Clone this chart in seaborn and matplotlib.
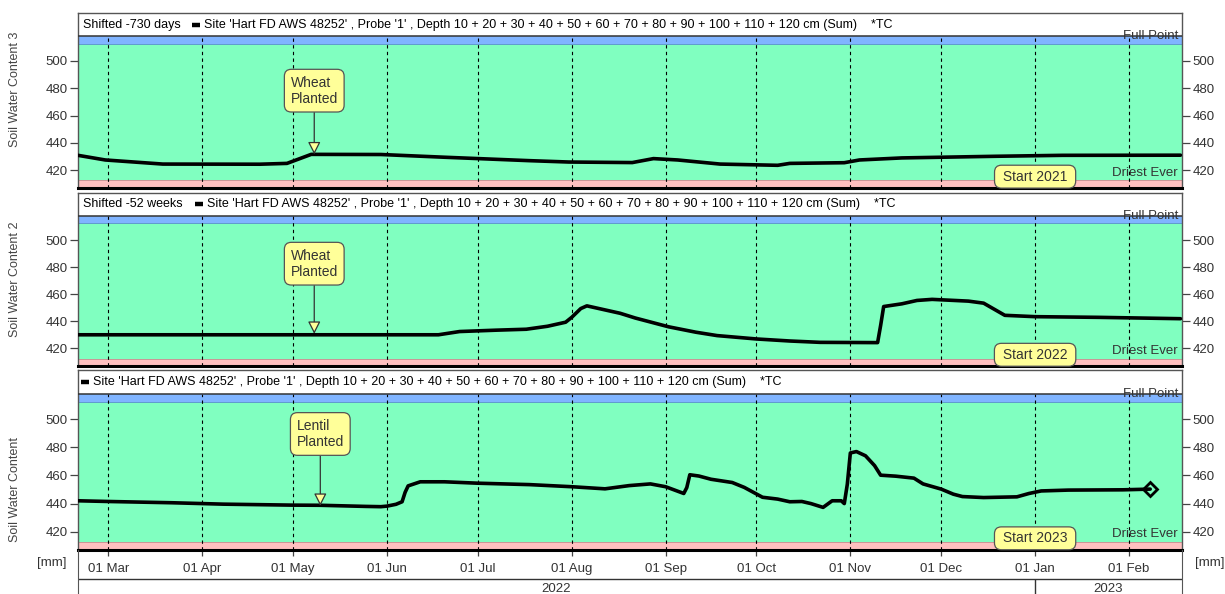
import matplotlib
matplotlib.use("Agg")
import matplotlib.dates as mdates
import matplotlib.pyplot as plt
import pandas as pd
import seaborn as sns

# ---- data ------------------------------------------------------------------
P1_DATES = ["2022-02-19", "2022-02-28", "2022-03-19", "2022-04-20", "2022-04-29",
            "2022-05-07", "2022-05-30", "2022-06-20", "2022-07-18", "2022-07-31",
            "2022-08-21", "2022-08-28", "2022-09-05", "2022-09-19", "2022-10-08",
            "2022-10-12", "2022-10-30", "2022-11-04", "2022-11-18", "2022-12-19",
            "2023-01-10", "2023-02-18"]
P1_VALUES = [430.9, 427.5, 424.5, 424.4, 425.0, 431.6, 431.5, 429.5, 427.0, 426.0,
             425.6, 428.5, 427.5, 424.5, 423.6, 425.0, 425.5, 427.5, 429.0, 430.2,
             430.9, 431.0]

P2_DATES = ["2022-02-19", "2022-06-18", "2022-06-25", "2022-07-07", "2022-07-17",
            "2022-07-24", "2022-07-30", "2022-08-01", "2022-08-04", "2022-08-06",
            "2022-08-10", "2022-08-17", "2022-08-22", "2022-09-02", "2022-09-11",
            "2022-09-18", "2022-10-01", "2022-10-12", "2022-10-22", "2022-11-10",
            "2022-11-11", "2022-11-12", "2022-11-18", "2022-11-23", "2022-11-28",
            "2022-12-10", "2022-12-15", "2022-12-22", "2023-01-01", "2023-01-22",
            "2023-02-18"]
P2_VALUES = [430.1, 430.1, 432.5, 433.5, 434.2, 436.4, 439.4, 443.0, 449.5, 451.5,
             449.5, 446.0, 442.5, 436.0, 432.0, 429.5, 427.0, 425.5, 424.5, 424.3,
             437.0, 451.0, 453.0, 455.5, 456.3, 455.0, 453.5, 444.5, 443.5, 443.0,
             442.0]

P3_DATES = ["2022-02-19", "2022-03-01", "2022-03-22", "2022-04-08", "2022-05-01",
            "2022-05-10", "2022-05-25", "2022-05-30", "2022-06-01", "2022-06-04",
            "2022-06-06", "2022-06-07", "2022-06-08", "2022-06-12", "2022-06-20",
            "2022-07-01", "2022-07-18", "2022-08-01", "2022-08-12", "2022-08-20",
            "2022-08-27", "2022-09-01", "2022-09-07", "2022-09-08", "2022-09-09",
            "2022-09-12", "2022-09-16", "2022-09-23", "2022-09-27", "2022-10-03",
            "2022-10-08", "2022-10-12", "2022-10-16", "2022-10-19", "2022-10-23",
            "2022-10-26", "2022-10-29", "2022-10-30", "2022-10-31", "2022-11-01",
            "2022-11-03", "2022-11-06", "2022-11-09", "2022-11-11", "2022-11-16",
            "2022-11-22", "2022-11-25", "2022-12-01", "2022-12-05", "2022-12-08",
            "2022-12-15", "2022-12-26", "2022-12-30", "2023-01-03", "2023-01-12",
            "2023-01-30", "2023-02-08"]
P3_VALUES = [442.0, 441.5, 440.6, 439.6, 438.9, 438.8, 438.0, 437.8, 438.2, 439.5,
             441.3, 448.0, 452.6, 455.5, 455.5, 454.5, 453.5, 452.0, 450.5, 452.8,
             454.0, 452.0, 447.2, 451.4, 460.5, 459.6, 457.3, 455.0, 451.5, 444.5,
             443.2, 441.3, 441.5, 440.0, 437.3, 442.0, 442.0, 440.0, 453.8, 476.0,
             477.0, 474.0, 467.0, 460.2, 459.5, 458.1, 454.0, 450.3, 446.7, 445.0,
             444.3, 444.8, 447.2, 449.0, 449.6, 449.8, 450.3]

SERIES_DATES = [P1_DATES, P2_DATES, P3_DATES]
SERIES_VALUES = [P1_VALUES, P2_VALUES, P3_VALUES]

SHIFT_LABELS = ["Shifted -730 days", "Shifted -52 weeks", ""]
Y_LABELS = ["Soil Water Content 3", "Soil Water Content 2", "Soil Water Content"]
PLANT_LABELS = ["Wheat\nPlanted", "Wheat\nPlanted", "Lentil\nPlanted"]
PLANT_DATES = ["2022-05-08", "2022-05-08", "2022-05-10"]
PLANT_TIPS = [431.6, 430.8, 438.4]
PLANT_BOX_Y = [478.2, 482.7, 489.5]
START_LABELS = ["Start 2021", "Start 2022", "Start 2023"]
START_DATE = "2023-01-01"
SITE_TEXT = ("Site 'Hart FD AWS 48252' , Probe '1' , Depth 10 + 20 + 30 + 40 + 50 + 60 + "
             "70 + 80 + 90 + 100 + 110 + 120 cm (Sum)    *TC")

Y_TICKS = [420, 440, 460, 480, 500]
FULL_POINT = 518.0
REFILL_TOP = 512.5
DRIEST_EVER = 412.5
Y_MIN, Y_MAX = 407.0, 535.0
X_MIN, X_MAX = pd.Timestamp("2022-02-19"), pd.Timestamp("2023-02-18 12:00")

GREEN = "#80ffc0"
BLUE = "#80b4ff"
PINK = "#ffc0c0"
YELLOW = "#ffff99"
TEXT = "#333333"

# ---- layout (pixels of the 1225x594 canvas) --------------------------------
W, H = 1225, 594
BOX_LEFT, BOX_RIGHT = 78, 1182
PANELS_PX = [(13, 188), (193, 366), (370, 550)]
YLABEL_CENTERS = [89, 279, 489]
DASH_PX = [(192, 200, 204), (195, 203, 207), (81, 89, 93)]

sns.set_style("white")
plt.rcParams["font.family"] = ["Liberation Sans", "DejaVu Sans"]
plt.rcParams["font.size"] = 9

fig = plt.figure(figsize=(W / 100, H / 100), dpi=100)


def px_axes(top, bottom):
    return fig.add_axes([BOX_LEFT / W, 1 - bottom / H,
                         (BOX_RIGHT - BOX_LEFT) / W, (bottom - top) / H])


def xfrac(px):
    return (px - BOX_LEFT) / (BOX_RIGHT - BOX_LEFT)


months = pd.date_range("2022-03-01", "2023-02-01", freq="MS")
axes = []
for i, (top, bottom) in enumerate(PANELS_PX):
    ax = px_axes(top, bottom)
    axes.append(ax)
    ax.set_xlim(X_MIN, X_MAX)
    ax.set_ylim(Y_MIN, Y_MAX)
    ax.set_facecolor("white")

    ax.axhspan(DRIEST_EVER, REFILL_TOP, color=GREEN, lw=0, zorder=0)
    ax.axhspan(REFILL_TOP, FULL_POINT, color=BLUE, lw=0, zorder=0)
    ax.axhspan(Y_MIN, DRIEST_EVER, color=PINK, lw=0, zorder=0)
    ax.axhline(FULL_POINT, color="#333333", lw=1.1, zorder=3)
    ax.axhline(REFILL_TOP, color="#5a8ad0", lw=0.6, zorder=1)
    ax.axhline(DRIEST_EVER, color="#c09090", lw=0.6, zorder=1)
    ax.vlines(months, Y_MIN, FULL_POINT, colors="black", linestyles=(0, (3, 3)),
              lw=0.8, zorder=2)

    ax.text(xfrac(1178), FULL_POINT, "Full Point", transform=ax.get_yaxis_transform(),
            ha="right", va="center", color=TEXT, fontsize=9.5, zorder=1.5)
    ax.text(xfrac(1178), 418.3, "Driest Ever", transform=ax.get_yaxis_transform(),
            ha="right", va="center", color=TEXT, fontsize=9.5, zorder=1.5)

    sns.lineplot(x=pd.to_datetime(SERIES_DATES[i]), y=SERIES_VALUES[i], ax=ax,
                 color="black", lw=2.6, zorder=4)

    # header strip
    head_y = (FULL_POINT + Y_MAX) / 2
    if SHIFT_LABELS[i]:
        ax.text(xfrac(83), head_y, SHIFT_LABELS[i], transform=ax.get_yaxis_transform(),
                ha="left", va="center", color="black", fontsize=9)
    d0, d1, tx = DASH_PX[i]
    ax.plot([xfrac(d0), xfrac(d1)], [head_y, head_y], transform=ax.get_yaxis_transform(),
            color="black", lw=3.2, solid_capstyle="butt")
    ax.text(xfrac(tx), head_y, SITE_TEXT, transform=ax.get_yaxis_transform(),
            ha="left", va="center", color="black", fontsize=9)

    ax.annotate(PLANT_LABELS[i], xy=(pd.Timestamp(PLANT_DATES[i]), PLANT_TIPS[i]),
                xytext=(pd.Timestamp(PLANT_DATES[i]), PLANT_BOX_Y[i]),
                ha="center", va="center", multialignment="left", fontsize=10,
                color=TEXT, zorder=6,
                bbox=dict(boxstyle="round,pad=0.45,rounding_size=0.5", fc=YELLOW,
                          ec="#555555", lw=0.9),
                arrowprops=dict(arrowstyle="-|>,head_length=0.75,head_width=0.38",
                                fc=YELLOW, ec="#333333", lw=0.9,
                                shrinkA=0, shrinkB=0))
    ax.text(pd.Timestamp(START_DATE), 415.3, " " + START_LABELS[i] + " ",
            ha="center", va="center", fontsize=10, color=TEXT, zorder=6,
            bbox=dict(boxstyle="round,pad=0.32,rounding_size=0.5", fc=YELLOW,
                      ec="#555555", lw=0.9))

    ax.set_yticks(Y_TICKS)
    ax.tick_params(axis="y", which="both", left=True, right=True, labelleft=True,
                   labelright=True, direction="out", length=6, width=0.9,
                   color="#444444", labelcolor=TEXT, labelsize=9.5, pad=1.5)
    ax.set_ylabel("")
    ax.set_xlabel("")
    for side in ["top", "left", "right"]:
        ax.spines[side].set_color("#555555")
        ax.spines[side].set_linewidth(1.0)
    ax.spines["bottom"].set_color("black")
    ax.spines["bottom"].set_linewidth(2.2)

    fig.text(15 / W, 1 - YLABEL_CENTERS[i] / H, Y_LABELS[i], rotation=90,
             ha="center", va="center", color="#444444", fontsize=9)

    if i < 2:
        ax.tick_params(axis="x", bottom=False, labelbottom=False)
    else:
        ax.xaxis.set_major_locator(mdates.MonthLocator())
        ax.xaxis.set_major_formatter(mdates.DateFormatter("%d %b"))
        ax.tick_params(axis="x", bottom=True, direction="out", length=4, width=0.9,
                       color="#444444", labelcolor=TEXT, labelsize=9.5, pad=5.5)

# end marker on the current season
axes[2].plot(pd.Timestamp(P3_DATES[-1]), P3_VALUES[-1], marker="D", ms=7,
             mfc="none", mec="black", mew=2, zorder=5)

# year row below the month labels
ax_years = px_axes(550, 594)
ax_years.set_xlim(X_MIN, X_MAX)
ax_years.set_ylim(0, 1)
ax_years.patch.set_alpha(0)
ax_years.set_xticks([])
ax_years.set_yticks([])
for side in ["top", "bottom"]:
    ax_years.spines[side].set_visible(False)
for side in ["left", "right"]:
    ax_years.spines[side].set_color("#555555")
row_y = (594 - 578.5) / 44
ax_years.axhline(row_y, color="#333333", lw=1.0)
ax_years.vlines(pd.Timestamp("2023-01-01"), 0, row_y, colors="#333333", lw=1.0)
ax_years.text(X_MIN + (pd.Timestamp("2023-01-01") - X_MIN) / 2, 0.12, "2022",
              ha="center", va="center", color=TEXT, fontsize=9.5)
ax_years.text(pd.Timestamp("2023-01-01") + (X_MAX - pd.Timestamp("2023-01-01")) / 2, 0.12,
              "2023", ha="center", va="center", color=TEXT, fontsize=9.5)

fig.text(52 / W, 1 - 563 / H, "[mm]", ha="center", va="center", color=TEXT, fontsize=9.5)
fig.text(1210 / W, 1 - 563 / H, "[mm]", ha="center", va="center", color=TEXT, fontsize=9.5)

fig.savefig("out.png", dpi=100)
plt.close(fig)
